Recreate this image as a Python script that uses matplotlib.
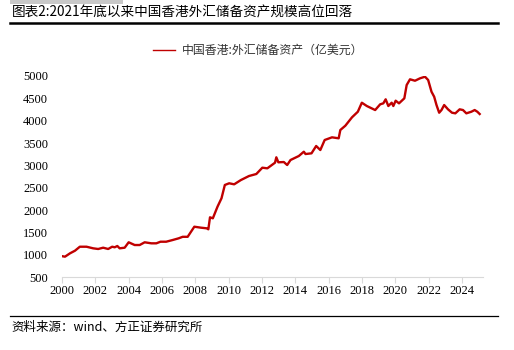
import matplotlib
matplotlib.use("Agg")
import matplotlib.pyplot as plt
from matplotlib.lines import Line2D

plt.rcParams['font.family'] = ['Noto Sans CJK SC', 'DejaVu Sans']

title = "图表2:2021年底以来中国香港外汇储备资产规模高位回落"
legend_label = "中国香港:外汇储备资产（亿美元）"
source = "资料来源：wind、方正证券研究所"

years = [1999.94, 2000.18, 2000.48, 2000.78, 2001.07, 2001.47, 2001.87, 2002.17, 2002.47,
         2002.77, 2003.01, 2003.16, 2003.32, 2003.46, 2003.76, 2004.0, 2004.36, 2004.66,
         2004.96, 2005.36, 2005.66, 2005.91, 2006.25, 2006.64, 2007.0, 2007.24, 2007.54,
         2007.94, 2008.34, 2008.68, 2008.78, 2008.88, 2009.05, 2009.33, 2009.57, 2009.77,
         2010.03, 2010.33, 2010.73, 2011.22, 2011.66, 2012.02, 2012.32, 2012.78, 2012.86,
         2012.98, 2013.31, 2013.51, 2013.71, 2014.21, 2014.51, 2014.61, 2014.97, 2015.25,
         2015.5, 2015.76, 2016.2, 2016.6, 2016.7, 2017.0, 2017.4, 2017.75, 2017.99, 2018.29,
         2018.79, 2019.09, 2019.28, 2019.42, 2019.58, 2019.78, 2019.88, 2020.02, 2020.22,
         2020.54, 2020.68, 2020.88, 2021.18, 2021.48, 2021.78, 2021.97, 2022.17, 2022.33,
         2022.47, 2022.63, 2022.77, 2022.93, 2023.16, 2023.4, 2023.6, 2023.86, 2024.06,
         2024.26, 2024.56, 2024.76, 2024.92, 2025.06]
values = [970, 955, 1030, 1089, 1178, 1178, 1142, 1127, 1156,
          1127, 1178, 1165, 1194, 1142, 1156, 1277, 1216, 1216,
          1277, 1254, 1254, 1290, 1290, 1328, 1366, 1400, 1400,
          1626, 1604, 1590, 1568, 1836, 1814, 2074, 2262, 2560,
          2598, 2575, 2670, 2761, 2806, 2947, 2933, 3059, 3180,
          3068, 3074, 3007, 3119, 3209, 3305, 3253, 3269, 3433,
          3343, 3567, 3627, 3605, 3791, 3887, 4075, 4200, 4402, 4328,
          4238, 4366, 4388, 4478, 4328, 4402, 4328, 4447, 4388,
          4500, 4798, 4926, 4894, 4948, 4984, 4910, 4648, 4536,
          4350, 4178, 4238, 4350, 4254, 4178, 4164, 4254, 4238,
          4164, 4200, 4238, 4200, 4149]

xticks = [2000, 2002, 2004, 2006, 2008, 2010, 2012, 2014, 2016, 2018, 2020, 2022, 2024]
yticks = [500, 1000, 1500, 2000, 2500, 3000, 3500, 4000, 4500, 5000]

W, H = 514, 350
fig = plt.figure(figsize=(W / 100, H / 100), dpi=100)

ax = fig.add_axes([62 / W, 1 - 277 / H, (483 - 62) / W, (277 - 76) / H])
line_color = '#C00000'
ax.plot(years, values, color=line_color, lw=1.7)
ax.set_xlim(2000, 2025.26)
ax.set_ylim(500, 5000)
ax.set_xticks(xticks)
ax.set_yticks(yticks)
ax.set_xticklabels([str(x) for x in xticks], family='Liberation Serif', fontsize=9)
ax.set_yticklabels([str(y) for y in yticks], family='Liberation Serif', fontsize=9)
for s in ['top', 'right', 'left']:
    ax.spines[s].set_visible(False)
ax.spines['bottom'].set_color('#d9d9d9')
ax.tick_params(axis='y', length=0, pad=10)
ax.tick_params(axis='x', length=4, color='#d9d9d9', pad=2)

# title decoration
fig.patches.append(plt.Rectangle((10 / W, 1 - 4 / H), 113 / W, 4 / H, transform=fig.transFigure,
                                 color='#c8c8c8', lw=0))
fig.text(12 / W, 1 - 13 / H, title, fontsize=9.8, va='center', ha='left', color='#000000')
fig.add_artist(Line2D([10 / W, 498 / W], [1 - 22.5 / H, 1 - 22.5 / H], color='black', lw=1.8,
                      transform=fig.transFigure))

# legend
fig.add_artist(Line2D([153 / W, 175 / W], [1 - 50 / H, 1 - 50 / H], color=line_color, lw=1.0,
                      transform=fig.transFigure))
fig.text(182 / W, 1 - 50 / H, legend_label, fontsize=8.6, va='center', ha='left', color='#333333')

# bottom rule and source
fig.add_artist(Line2D([10 / W, 498 / W], [1 - 315.5 / H, 1 - 315.5 / H], color='black', lw=0.9,
                      transform=fig.transFigure))
fig.text(11 / W, 1 - 327 / H, source, fontsize=9, va='center', ha='left', style='italic',
         color='#000000')

fig.savefig('out.png', dpi=100)
